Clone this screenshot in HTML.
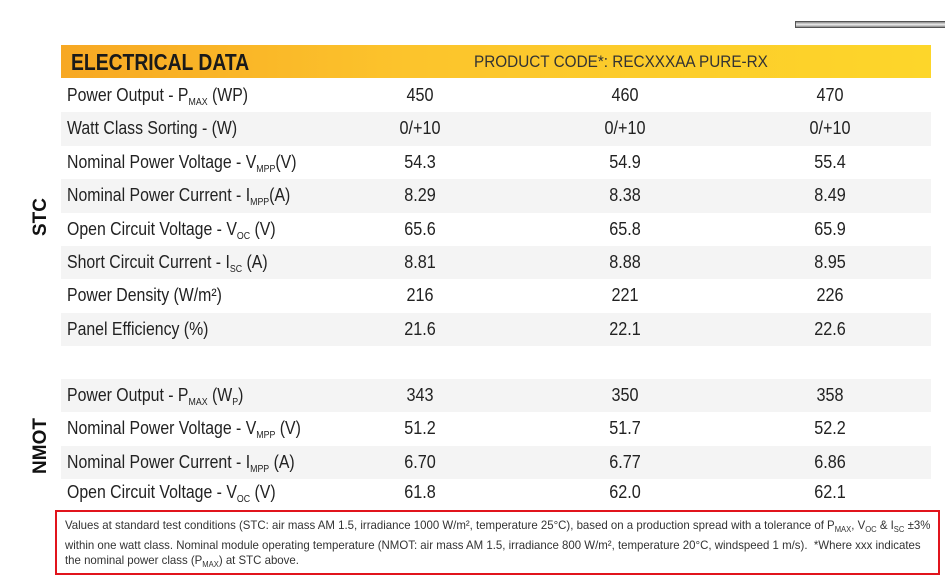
<!DOCTYPE html>
<html><head><meta charset="utf-8"><style>
body{margin:0;width:945px;height:584px;background:#fff;position:relative;overflow:hidden;font-family:"Liberation Sans",sans-serif;color:#222}
.bar{position:absolute;left:795px;top:21px;width:150px;height:7px;border:1px solid #555;border-right:none;background:linear-gradient(#888,#eee 50%,#888);box-sizing:border-box}
.hdr{position:absolute;left:61px;top:45px;width:870px;height:33px;background:linear-gradient(90deg,#f7a823,#fcc42c 40%,#fdd62a)}
.hdr .t{position:absolute;left:10px;top:4px;font-size:23px;font-weight:bold;color:#1a1a1a;transform:scaleX(0.84);transform-origin:left;white-space:nowrap}
.hdr .p{position:absolute;left:413px;top:7px;font-size:17px;color:#333;transform:scaleX(0.9);transform-origin:left;white-space:nowrap}
.row{position:absolute;left:61px;width:870px;height:33.4px;font-size:18px}
.row.g{background:#f4f4f4}
.row span{position:absolute;top:6px;white-space:nowrap}
.row .l{left:6px;transform:scaleX(0.88);transform-origin:left}
.row .a,.row .b,.row .c{width:100px;text-align:center;transform:scaleX(0.9)}
.a{left:309px}.b{left:514px}.c{left:719px}
sub{font-size:10px;vertical-align:-4px}
.side{position:absolute;font-size:19px;font-weight:bold;transform:rotate(-90deg);color:#111}
.note{position:absolute;left:55px;top:510px;width:885px;height:65px;border:2px solid #e1141c;box-sizing:border-box;color:#333;overflow:hidden}
.note div{position:absolute;left:8px;top:6px;width:995px;font-size:12px;line-height:15.5px;transform:scaleX(0.953);transform-origin:left}
.note sub{font-size:8px;vertical-align:-3px}
</style></head><body>
<div class="bar"></div>
<div class="hdr"><span class="t">ELECTRICAL DATA</span><span class="p">PRODUCT CODE*: RECXXXAA PURE-RX</span></div>
<div class="side" style="left:22px;top:206px">STC</div>
<div class="side" style="left:13px;top:435px">NMOT</div>
<div class="row" style="top:79px"><span class="l">Power Output - P<sub>MAX</sub> (WP)</span><span class="a">450</span><span class="b">460</span><span class="c">470</span></div>
<div class="row g" style="top:112.4px"><span class="l">Watt Class Sorting - (W)</span><span class="a">0/+10</span><span class="b">0/+10</span><span class="c">0/+10</span></div>
<div class="row" style="top:145.8px"><span class="l">Nominal Power Voltage - V<sub>MPP</sub>(V)</span><span class="a">54.3</span><span class="b">54.9</span><span class="c">55.4</span></div>
<div class="row g" style="top:179.2px"><span class="l">Nominal Power Current - I<sub>MPP</sub>(A)</span><span class="a">8.29</span><span class="b">8.38</span><span class="c">8.49</span></div>
<div class="row" style="top:212.6px"><span class="l">Open Circuit Voltage - V<sub>OC</sub> (V)</span><span class="a">65.6</span><span class="b">65.8</span><span class="c">65.9</span></div>
<div class="row g" style="top:246px"><span class="l">Short Circuit Current - I<sub>SC</sub> (A)</span><span class="a">8.81</span><span class="b">8.88</span><span class="c">8.95</span></div>
<div class="row" style="top:279.4px"><span class="l">Power Density (W/m²)</span><span class="a">216</span><span class="b">221</span><span class="c">226</span></div>
<div class="row g" style="top:312.8px"><span class="l">Panel Efficiency (%)</span><span class="a">21.6</span><span class="b">22.1</span><span class="c">22.6</span></div>
<div class="row g" style="top:379px"><span class="l">Power Output - P<sub>MAX</sub> (W<sub>P</sub>)</span><span class="a">343</span><span class="b">350</span><span class="c">358</span></div>
<div class="row" style="top:412.4px"><span class="l">Nominal Power Voltage - V<sub>MPP</sub> (V)</span><span class="a">51.2</span><span class="b">51.7</span><span class="c">52.2</span></div>
<div class="row g" style="top:445.8px"><span class="l">Nominal Power Current - I<sub>MPP</sub> (A)</span><span class="a">6.70</span><span class="b">6.77</span><span class="c">6.86</span></div>
<div class="row" style="top:476px"><span class="l">Open Circuit Voltage - V<sub>OC</sub> (V)</span><span class="a">61.8</span><span class="b">62.0</span><span class="c">62.1</span></div>
<div class="note"><div>Values at standard test conditions (STC: air mass AM 1.5, irradiance 1000 W/m², temperature 25°C), based on a production spread with a tolerance of P<sub>MAX</sub>, V<sub>OC</sub> &amp; I<sub>SC</sub> ±3%<br>within one watt class. Nominal module operating temperature (NMOT: air mass AM 1.5, irradiance 800 W/m², temperature 20°C, windspeed 1 m/s).&nbsp; *Where xxx indicates<br>the nominal power class (P<sub>MAX</sub>) at STC above.</div></div>
</body></html>
